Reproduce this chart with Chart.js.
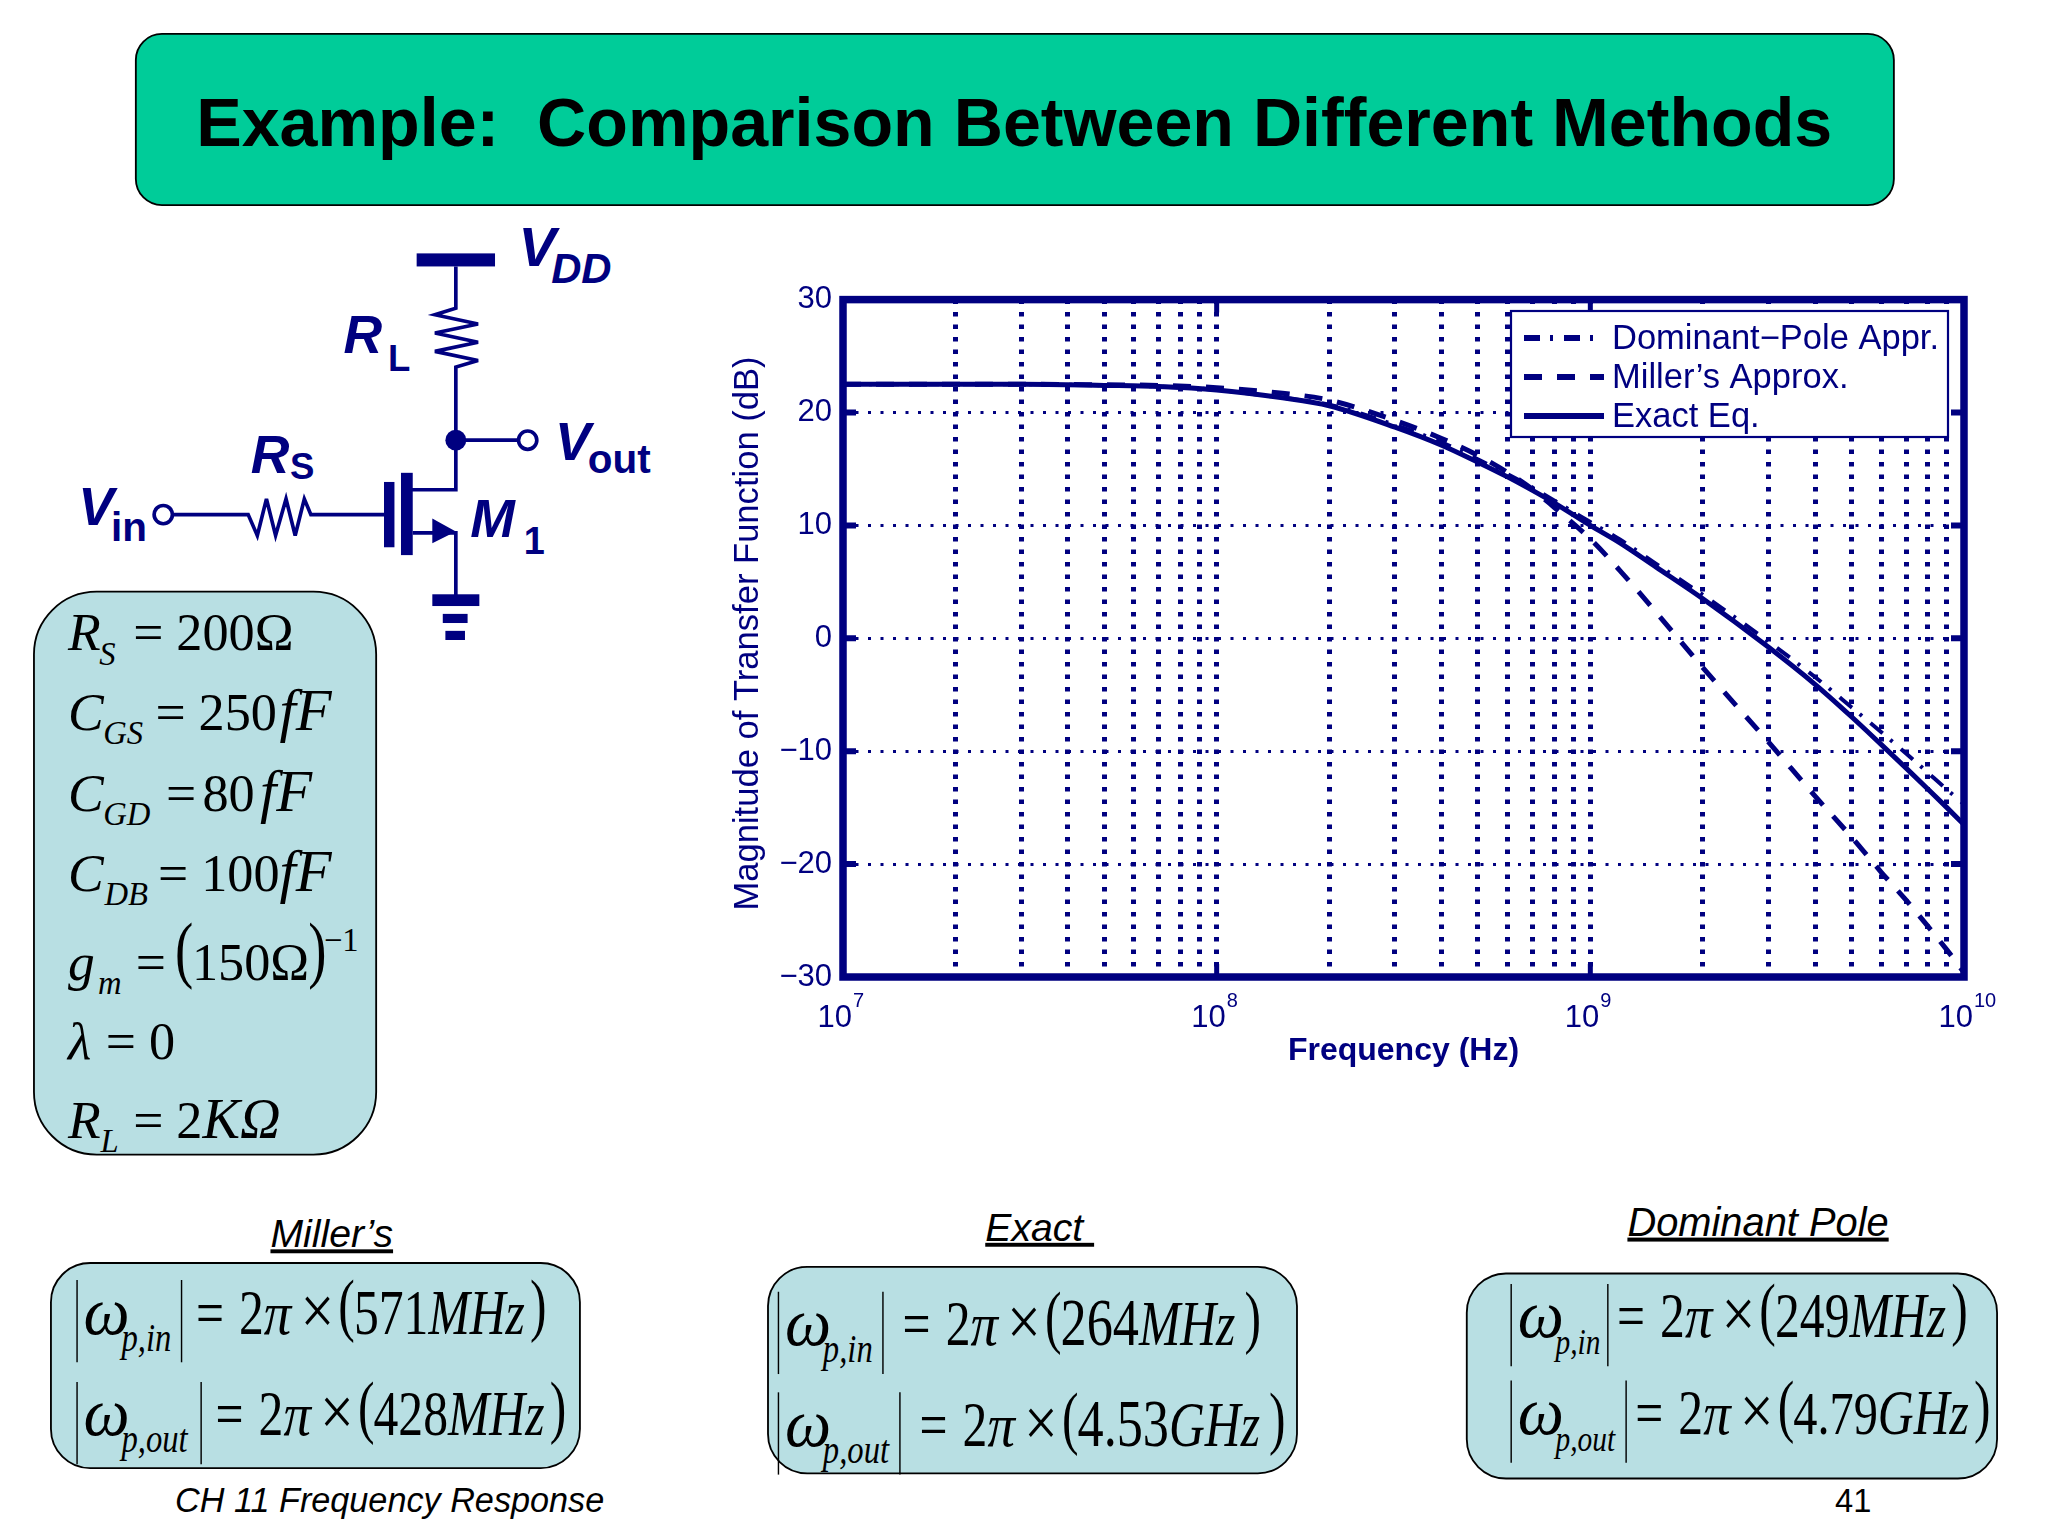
<!DOCTYPE html>
<html>
<head>
<meta charset="utf-8">
<title>Comparison Between Different Methods</title>
<script src="https://cdn.jsdelivr.net/npm/chart.js@4"></script>
<style>
  html, body { margin: 0; padding: 0; background: #fff; overflow: hidden; }
  #page { position: absolute; left: 0; top: 0; width: 2048px; height: 1536px; }
  #chartBox { position: absolute; left: 720px; top: 270px; width: 1300px; height: 830px; }
</style>
</head>
<body>
<svg id="page" viewBox="0 0 1568 1176" xmlns="http://www.w3.org/2000/svg"></svg>
<div id="chartBox"><canvas id="chart" width="1300" height="830"></canvas></div>
<script>
const freqHz = [1e7, 2e7, 3e7, 5e7, 7e7, 1e8, 1.5e8, 2e8, 3e8, 4e8, 5e8, 6e8, 7e8, 8e8, 1e9, 1.2e9, 1.5e9, 2e9, 3e9, 4e9, 5e9, 6e9, 7e9, 8e9, 9e9, 1e10];
const dominantDb = [22.5, 22.5, 22.5, 22.4, 22.3, 22.0, 21.3, 20.7, 18.9, 17.35, 15.85, 14.55, 13.35, 12.2, 10.3, 8.75, 6.6, 3.85, -0.3, -3.45, -6.1, -8.3, -10.2, -11.9, -13.4, -14.7];
const millerDb = [22.5, 22.5, 22.5, 22.45, 22.4, 22.2, 21.7, 21.1, 19.3, 17.7, 16.2, 14.7, 13.2, 11.6, 8.8, 6.0, 2.3, -2.6, -9.2, -14.0, -17.6, -20.7, -23.2, -25.5, -27.6, -29.6];
const exactDb = [22.5, 22.5, 22.5, 22.4, 22.3, 22.0, 21.3, 20.6, 18.7, 17.1, 15.6, 14.3, 13.1, 12.0, 10.0, 8.45, 6.3, 3.5, -0.8, -4.1, -6.95, -9.4, -11.5, -13.35, -15.0, -16.5];
const seriesNames = ['Dominant\u2212Pole Appr.', 'Miller\u2019s Approx.', 'Exact Eq.'];
const xDecades = [7, 8, 9, 10];
const xGridMultiples = [1, 2, 3, 4, 5, 6, 7, 8, 9];
const yTicks = [30, 20, 10, 0, -10, -20, -30];

const NAVY = '#000080';
const SANS = '"Liberation Sans", Arial, sans-serif';
const SERIF = '"Liberation Serif", "Times New Roman", serif';

// slide furniture, coordinates are in the 1568x1176 viewBox
const svg = document.getElementById('page');
function el(name, attrs, parent) {
  const e = document.createElementNS('http://www.w3.org/2000/svg', name);
  for (const k in attrs) e.setAttribute(k, attrs[k]);
  (parent || svg).appendChild(e);
  return e;
}
function text(x, y, str, size, opts) {
  opts = opts || {};
  const sy = opts.sy || 1;
  const e = el('text', {
    transform: 'translate(' + x + ',' + y + ') scale(1,' + sy + ')',
    'font-family': opts.family || SERIF,
    'font-size': size,
    'font-style': opts.italic ? 'italic' : 'normal',
    'font-weight': opts.bold ? 'bold' : 'normal',
    fill: opts.fill || '#000'
  });
  if (opts.anchor) e.setAttribute('text-anchor', opts.anchor);
  if (opts.underline) e.setAttribute('text-decoration', 'underline');
  e.textContent = str;
  return e;
}
function box(x, y, w, h, r, fill) {
  el('rect', { x: x, y: y, width: w, height: h, rx: r, ry: r, fill: fill, stroke: '#000', 'stroke-width': 1.4 });
}

// title bar
box(104, 26, 1346, 131, 20, '#00CC99');
text(776.5, 112, 'Example:\u00A0 Comparison Between Different Methods', 52.2, { family: SANS, bold: true, anchor: 'middle' });

// parameter box
box(26, 453, 262, 431, 48, '#B8DFE3');
function param(y, sym, sub, subX, eqX, valX, val, unitX, unit, unitSize) {
  text(52, y, sym, 41, { italic: true });
  text(subX, y + 11, sub, 25, { italic: true });
  text(eqX, y, '=', 41);
  text(valX, y, val, 40);
  if (unit) text(unitX, y, unit, unitSize || 45, { italic: true });
}
param(498, 'R', 'S', 76, 102, 135, '200\u03A9');
param(559, 'C', 'GS', 79, 119, 152, '250', 214, 'fF');
param(621, 'C', 'GD', 79, 127, 155, '80', 199, 'fF');
param(682, 'C', 'DB', 80, 121, 154, '100', 214, 'fF');
param(750, 'g', 'm', 75, 104, 147, '150\u03A9');
text(134, 746, '(', 42, { sy: 1.35 });
text(236, 746, ')', 42, { sy: 1.35 });
text(248, 728, '\u22121', 25);
text(52, 811, '\u03BB', 41, { italic: true });
text(81, 811, '=', 41);
text(114, 811, '0', 40);
param(871, 'R', 'L', 77, 102, 135, '2', 155, 'K\u03A9', 43);

// pole formulas
function formula(bar1, bar2, base, sub, num, unit, o) {
  o = o || {};
  const dx = o.dx || 0, numSize = o.numSize || 38, subSize = o.subSize || 25, rGap = o.rGap || 0;
  const st = { sy: 1.28 };
  el('line', { x1: bar1, x2: bar1, y1: base - 41, y2: base + 22, stroke: '#000', 'stroke-width': 1.1 });
  el('line', { x1: bar2, x2: bar2, y1: base - 41, y2: base + 22, stroke: '#000', 'stroke-width': 1.1 });
  text(bar1 + 5, base, '\u03C9', 50, { italic: true, sy: 1.05 });
  text(bar1 + 34, base + 13, sub, subSize, { italic: true, sy: 1.25 });
  const b = bar2 + dx;
  text(b + 11, base, '=', 38, st);
  text(b + 44, base, '2', 38, st);
  text(b + 63, base, '\u03C0', 42, { italic: true, sy: 1.1 });
  text(b + 91, base, '\u00D7', 46, { sy: 1.15 });
  text(b + 120, base - 4, '(', 38, { sy: 1.42 });
  const n = text(b + 132, base, num, numSize, st);
  const nw = n.getComputedTextLength();
  const u = text(b + 132 + nw, base, unit, 38, { italic: true, sy: 1.28 });
  const uw = u.getComputedTextLength();
  text(b + 136 + nw + uw + rGap, base - 4, ')', 38, { sy: 1.42 });
}
box(39, 967, 405, 157, 30, '#B8DFE3');
formula(59, 139, 1021, 'p,in', '571', 'MHz');
formula(59, 154, 1099, 'p,out', '428', 'MHz');
box(588, 970, 405, 158, 30, '#B8DFE3');
formula(596, 676, 1030, 'p,in', '264', 'MHz', { dx: 4, numSize: 40, rGap: 3 });
formula(596, 689, 1107, 'p,out', '4.53', 'GHz', { dx: 4, numSize: 40, rGap: 3 });
box(1123, 975, 406, 157, 30, '#B8DFE3');
formula(1157, 1231, 1024, 'p,in', '249', 'MHz', { dx: -4, subSize: 22.5 });
formula(1157, 1245, 1098, 'p,out', '4.79', 'GHz', { dx: -4, numSize: 37, subSize: 22.5 });

// captions and footer
text(254, 955, 'Miller\u2019s', 30, { family: SANS, italic: true, anchor: 'middle', underline: true });
text(796, 950, 'Exact\u00A0', 30, { family: SANS, italic: true, anchor: 'middle', underline: true });
text(1346, 946, 'Dominant Pole', 30.5, { family: SANS, italic: true, anchor: 'middle', underline: true });
text(134, 1158, 'CH 11 Frequency Response', 26.2, { family: SANS, italic: true });
text(1405, 1158, '41', 25, { family: SANS });

// circuit
function wire(d, w) { el('path', { d: d, fill: 'none', stroke: NAVY, 'stroke-width': w || 2.8, 'stroke-linejoin': 'miter' }); }
function solid(x, y, w, h) { el('rect', { x: x, y: y, width: w, height: h, fill: NAVY }); }
solid(319, 194, 60, 10);
wire('M349 204V236L333 241L366 248L333 255L366 262L333 269L366 276L349 281V375H312');
el('circle', { cx: 349, cy: 337, r: 8, fill: NAVY });
wire('M349 337H397');
el('circle', { cx: 404, cy: 337, r: 7, fill: '#fff', stroke: NAVY, 'stroke-width': 2.8 });
solid(294, 369, 8, 50);
solid(307, 362, 9, 63);
wire('M316 408H349V456');
el('path', { d: 'M331 397L349 407L331 416Z', fill: NAVY });
solid(331, 455, 36, 9);
solid(339, 470, 19, 7);
solid(341, 483, 15, 7);
el('circle', { cx: 125, cy: 394, r: 7, fill: '#fff', stroke: NAVY, 'stroke-width': 2.8 });
wire('M132 394H190L197 410L204 382L211 410L219 382L226 410L233 382L238 394H295');
const ckt = { family: SANS, italic: true, bold: true, fill: NAVY };
const cktSub = { family: SANS, bold: true, fill: NAVY };
text(397, 204, 'V', 43, ckt);
text(422, 217, 'DD', 32, ckt);
text(263, 270, 'R', 41, ckt);
text(297, 284, 'L', 28, cktSub);
text(192, 362, 'R', 41, ckt);
text(222, 367, 'S', 28, cktSub);
text(60, 402, 'V', 41, ckt);
text(85, 414, 'in', 31, cktSub);
text(425, 352, 'V', 41, ckt);
text(450, 362, 'out', 31, cktSub);
text(360, 411, 'M', 41, ckt);
text(401, 424, '1', 29, cktSub);

// frame, inward ticks, exponent labels and legend are not things Chart.js draws like MATLAB does
const matlabAxes = {
  id: 'matlabAxes',
  afterDatasetsDraw(chart) {
    const { ctx, chartArea: a, scales } = chart;
    ctx.save();
    ctx.strokeStyle = NAVY;
    ctx.fillStyle = NAVY;
    ctx.lineWidth = 7.5;
    ctx.strokeRect(a.left, a.top, a.right - a.left, a.bottom - a.top);
    ctx.lineWidth = 6;
    yTicks.forEach(v => {
      const y = scales.y.getPixelForValue(v);
      ctx.beginPath();
      ctx.moveTo(a.left, y); ctx.lineTo(a.left + 13, y);
      ctx.moveTo(a.right, y); ctx.lineTo(a.right - 13, y);
      ctx.stroke();
    });
    ctx.lineWidth = 5;
    xDecades.forEach(p => {
      const x = scales.x.getPixelForValue(Math.pow(10, p));
      ctx.beginPath();
      ctx.moveTo(x, a.top); ctx.lineTo(x, a.top + 13);
      ctx.moveTo(x, a.bottom); ctx.lineTo(x, a.bottom - 13);
      ctx.stroke();
      ctx.textBaseline = 'alphabetic';
      ctx.textAlign = 'right';
      ctx.font = '31px ' + SANS;
      ctx.fillText('10', x + 9, a.bottom + 50);
      ctx.textAlign = 'left';
      ctx.font = '20px ' + SANS;
      ctx.fillText(String(p), x + 10, a.bottom + 30);
    });

    // legend box
    const lx = 1511 - 720, ly = 311 - 270, lw = 437, lh = 126;
    ctx.fillStyle = '#fff';
    ctx.fillRect(lx, ly, lw, lh);
    ctx.lineWidth = 2.2;
    ctx.strokeRect(lx, ly, lw, lh);
    ctx.font = '34.5px ' + SANS;
    ctx.textBaseline = 'middle';
    ctx.textAlign = 'left';
    chart.data.datasets.forEach((ds, i) => {
      const y = ly + 27 + i * 39;
      ctx.beginPath();
      ctx.lineWidth = 6;
      ctx.setLineDash(ds.borderDash || []);
      ctx.moveTo(lx + 13, y); ctx.lineTo(lx + 93, y);
      ctx.stroke();
      ctx.setLineDash([]);
      ctx.fillStyle = NAVY;
      ctx.fillText(ds.label, lx + 101, y + 1);
    });
    ctx.restore();
  }
};

new Chart(document.getElementById('chart'), {
  type: 'line',
  data: {
    labels: freqHz,
    datasets: [
      { label: seriesNames[0], data: dominantDb, borderColor: NAVY, borderWidth: 4, borderDash: [16, 10, 3, 11], pointRadius: 0, cubicInterpolationMode: 'monotone' },
      { label: seriesNames[1], data: millerDb, borderColor: NAVY, borderWidth: 5, borderDash: [18, 15], pointRadius: 0, cubicInterpolationMode: 'monotone' },
      { label: seriesNames[2], data: exactDb, borderColor: NAVY, borderWidth: 5, pointRadius: 0, cubicInterpolationMode: 'monotone' }
    ]
  },
  options: {
    responsive: false,
    animation: false,
    devicePixelRatio: 1,
    layout: { padding: { top: 28, right: 56 } },
    plugins: { legend: { display: false }, tooltip: { enabled: false } },
    scales: {
      x: {
        type: 'logarithmic',
        min: 1e7,
        max: 1e10,
        grid: { color: NAVY, lineWidth: 5, drawTicks: false },
        border: { display: false, dash: [4.5, 8] },
        ticks: { display: true, autoSkip: false, maxRotation: 0, color: 'rgba(0,0,0,0)', callback: () => '' },
        // the log scale adds 1.5x ticks on its own, the reference only has the 1..9 multiples
        afterBuildTicks(scale) {
          const ticks = [];
          xDecades.slice(0, -1).forEach(p => {
            xGridMultiples.forEach(m => ticks.push({ value: m * Math.pow(10, p) }));
          });
          ticks.push({ value: Math.pow(10, xDecades[xDecades.length - 1]) });
          scale.ticks = ticks;
        },
        title: { display: true, text: 'Frequency (Hz)', color: NAVY, font: { family: SANS, size: 32, weight: 'bold' }, padding: { top: 0, bottom: 30 } },
        afterFit(scale) { scale.height = 123; }
      },
      y: {
        min: -30,
        max: 30,
        grid: { color: NAVY, lineWidth: 3, drawTicks: false },
        border: { display: false, dash: [3, 9.5] },
        ticks: {
          stepSize: 10,
          padding: 11,
          color: NAVY,
          font: { family: SANS, size: 31 },
          callback: v => String(v).replace('-', '\u2212')
        },
        title: { display: true, text: '\u00A0Magnitude of Transfer Function (dB)', color: NAVY, font: { family: SANS, size: 34.6 }, padding: { top: 8, bottom: 0 } },
        afterFit(scale) { scale.width = 123; }
      }
    }
  },
  plugins: [matlabAxes]
});
</script>
</body>
</html>
